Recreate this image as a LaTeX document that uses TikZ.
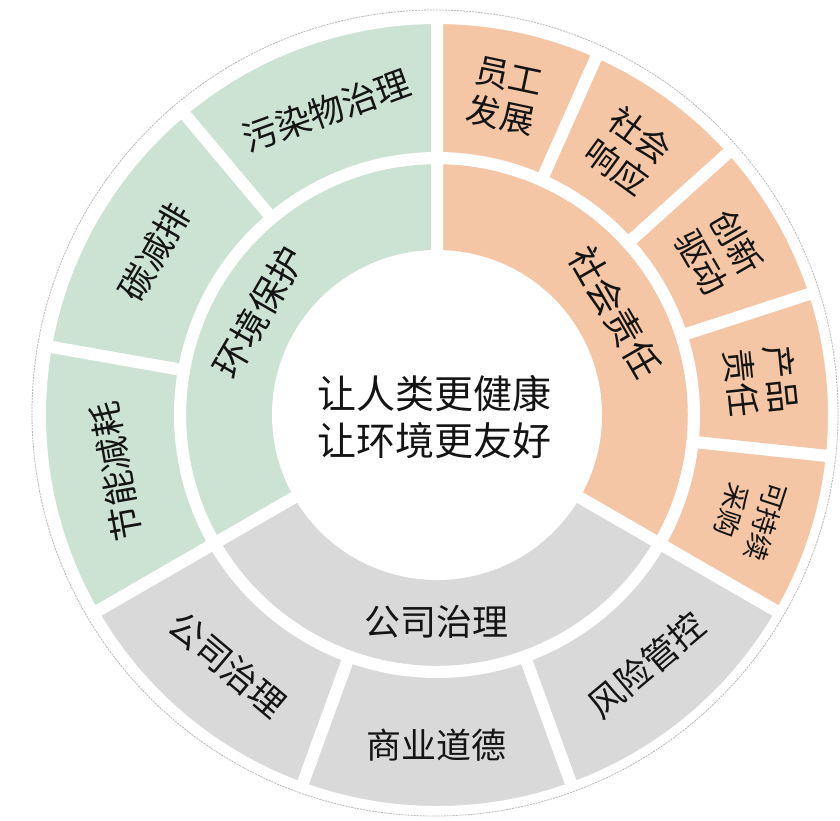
\documentclass[tikz,border=0pt]{standalone}
\usepackage{fontspec}
\setmainfont{Noto Sans CJK SC}
\definecolor{envgreen}{RGB}{204,226,211}
\definecolor{socorange}{RGB}{244,198,166}
\definecolor{govgray}{RGB}{217,217,217}
\definecolor{txt}{RGB}{20,20,20}
\newcommand{\sector}[5]{%
  \path[fill=#1,draw=white,line width=12pt,line join=miter]
    (#2:#4) arc[start angle=#2,end angle=#3,radius=#4]
    -- (#3:#5) arc[start angle=#3,end angle=#2,radius=#5] -- cycle;}
\tikzset{
  centertext/.style={inner sep=0pt,align=center,text=txt,font=\fontsize{39pt}{47pt}\selectfont},
  innerlabel/.style={inner sep=0pt,align=center,text=txt,font=\fontsize{36pt}{44pt}\selectfont},
  outerlabel/.style={inner sep=0pt,align=center,text=txt,font=\fontsize{35pt}{42pt}\selectfont},
  pairlabel/.style={inner sep=0pt,align=center,text=txt,font=\fontsize{34pt}{40pt}\selectfont},
  smalllabel/.style={inner sep=0pt,align=center,text=txt,font=\fontsize{27pt}{36pt}\selectfont},
  rim/.style={draw=black!28,line width=0.8pt,dash pattern=on 2pt off 1pt}
}
\begin{document}
\begin{tikzpicture}
\useasboundingbox (-437pt,-405pt) rectangle (403pt,415pt);
\fill[white] (-437pt,-405pt) rectangle (403pt,415pt);
% inner ring
\sector{envgreen}{90}{210}{159pt}{257pt}
\sector{govgray}{210}{330}{159pt}{257pt}
\sector{socorange}{-30}{90}{159pt}{257pt}
% outer ring: environment
\sector{envgreen}{90}{130}{257pt}{397pt}
\sector{envgreen}{130}{170}{257pt}{397pt}
\sector{envgreen}{170}{210}{257pt}{397pt}
% outer ring: governance
\sector{govgray}{210}{250}{257pt}{397pt}
\sector{govgray}{250}{290}{257pt}{397pt}
\sector{govgray}{290}{330}{257pt}{397pt}
% outer ring: social
\sector{socorange}{66}{90}{257pt}{397pt}
\sector{socorange}{42}{66}{257pt}{397pt}
\sector{socorange}{18}{42}{257pt}{397pt}
\sector{socorange}{-6}{18}{257pt}{397pt}
\sector{socorange}{-30}{-6}{257pt}{397pt}
% faint rim
\draw[rim] (-2pt,2pt) circle[radius=403pt];
% center
\node[centertext] (core) at (-2pt,-2pt) {让人类更健康\\让环境更友好};
% inner labels
\node[innerlabel,rotate=60] (env) at (150:206pt) {环境保护};
\node[innerlabel,rotate=-60] (soc) at (30:206pt) {社会责任};
\node[innerlabel] (gov) at (270:207pt) {公司治理};
% outer labels: environment
\node[outerlabel,rotate=20] (pollut) at (110:324pt) {污染物治理};
\node[outerlabel,rotate=60] (carbon) at (150:326pt) {碳减排};
\node[outerlabel,rotate=100] (energy) at (190:326pt) {节能减耗};
% outer labels: governance
\node[outerlabel,rotate=-40] (corp) at (230:326pt) {公司治理};
\node[outerlabel] (ethics) at (270:330pt) {商业道德};
\node[outerlabel,rotate=40] (risk) at (310:326pt) {风险管控};
% outer labels: social
\node[pairlabel,rotate=-12] (staff) at (78:326pt) {员工\\发展};
\node[pairlabel,rotate=-36] (resp) at (54:326pt) {社会\\响应};
\node[pairlabel,rotate=-60] (innov) at (30:326pt) {创新\\驱动};
\node[pairlabel,rotate=-84] (prod) at (6:326pt) {产品\\责任};
\node[smalllabel,rotate=-108] (procure) at (-18:328pt) {可持续\\采购};
\end{tikzpicture}
\end{document}
